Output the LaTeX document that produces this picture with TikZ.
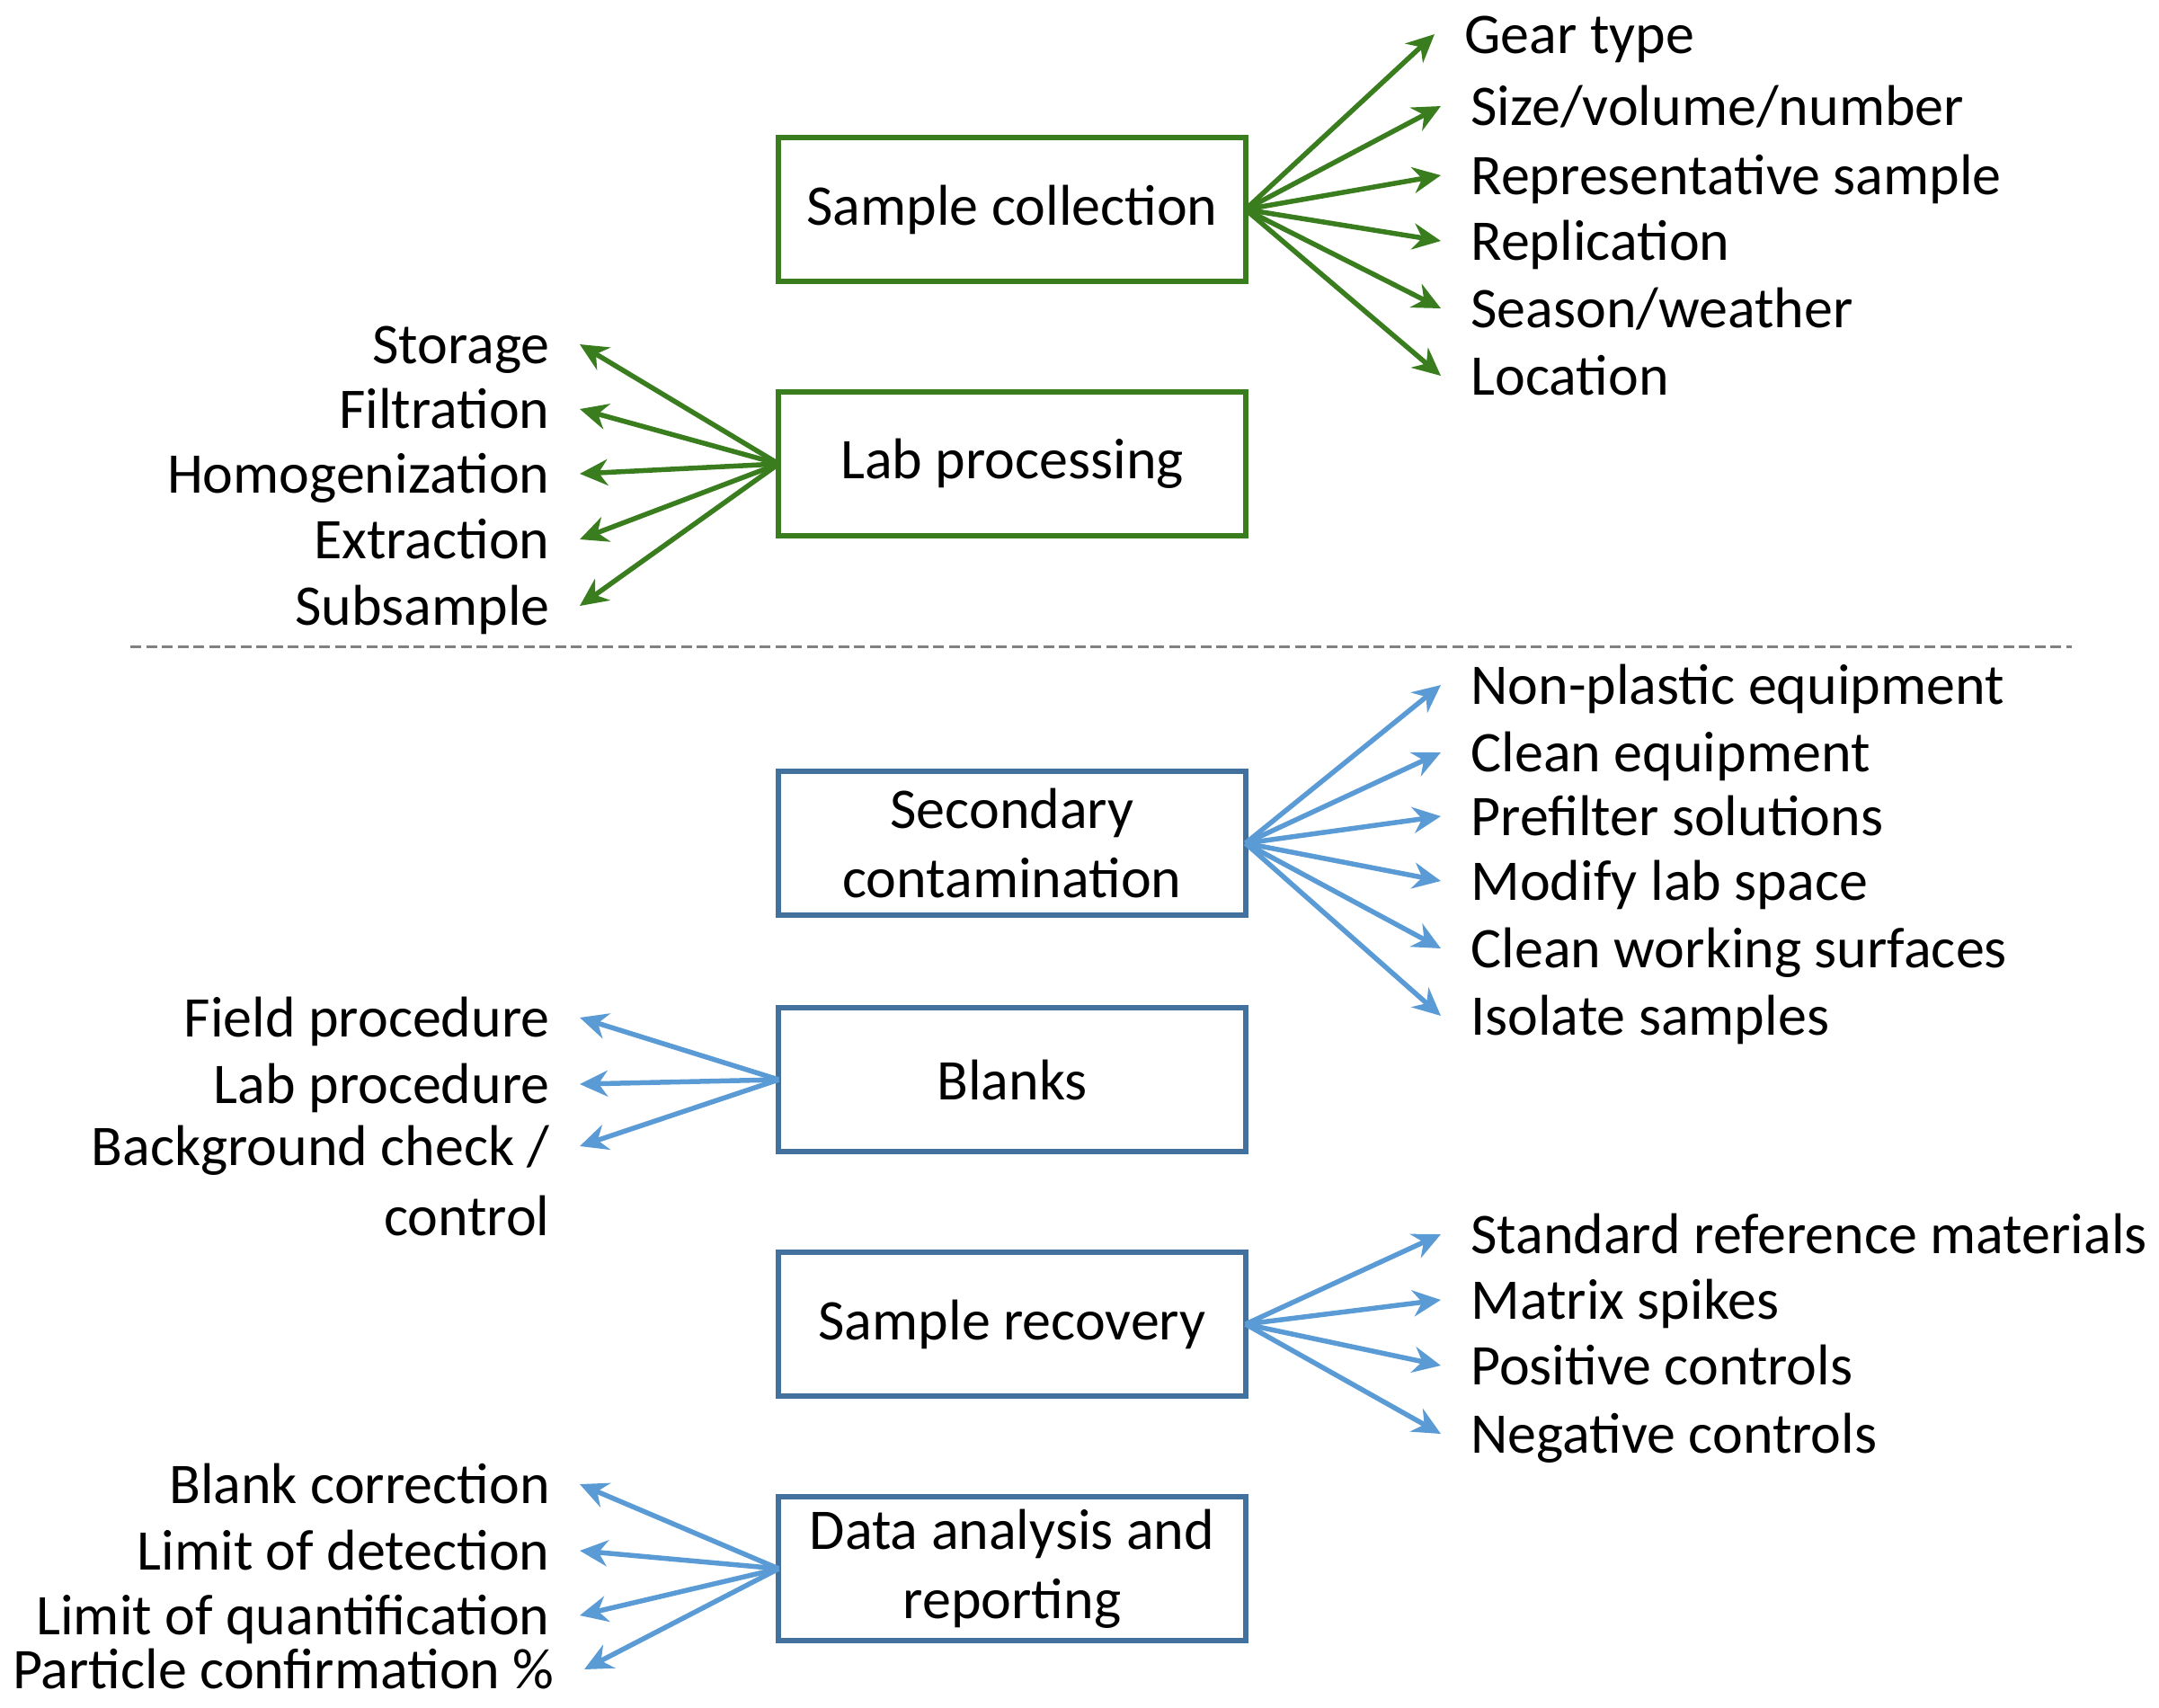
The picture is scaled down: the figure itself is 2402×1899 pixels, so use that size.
\documentclass[tikz,border=0pt]{standalone}
\usepackage{fontspec}
\setmainfont{Carlito}
\usetikzlibrary{arrows.meta}
\definecolor{grn}{RGB}{58,125,31}
\definecolor{bboxc}{RGB}{65,113,156}
\definecolor{barrow}{RGB}{91,155,213}
\definecolor{sepc}{RGB}{128,128,128}
\begin{document}
\begin{tikzpicture}[x=0.01cm,y=-0.01cm,
  every node/.style={font=\fontsize{18.2}{21.8}\selectfont},
  box/.style={draw, line width=0.6mm, minimum width=5.19cm, minimum height=1.6cm, inner sep=0, outer sep=0, align=center},
  gbox/.style={box, draw=grn},
  bbx/.style={box, draw=bboxc},
  item/.style={inner sep=0, outer xsep=9.5pt, text height=16.2pt, text depth=4pt},
  ritem/.style={item, anchor=west},
  litem/.style={item, anchor=east},
  tip/.style={-{Stealth[length=3.1mm, width=2.9mm, inset=1mm]}},
  garr/.style={draw=grn, line width=0.55mm, tip},
  barr/.style={draw=barrow, line width=0.55mm, tip}
]
\useasboundingbox (0,0) rectangle (2402,1899);

% boxes
\node[gbox] (sc) at (1126,233) {Sample collection};
\node[gbox] (lp) at (1126,516) {Lab processing};
\node[bbx] (secc) at (1126,938) {Secondary\\contamination};
\node[bbx] (bl) at (1126,1201) {Blanks};
\node[bbx] (sr) at (1126,1473) {Sample recovery};
\node[bbx] (da) at (1126,1745) {Data analysis and\\reporting};

% sample collection items
\node[ritem] (sc1) at (1596,38) {Gear type};
\node[ritem] (sc2) at (1603,118) {Size/volume/number};
\node[ritem] (sc3) at (1603,195) {Representative sample};
\node[ritem] (sc4) at (1603,268) {Replication};
\node[ritem] (sc5) at (1603,343) {Season/weather};
\node[ritem] (sc6) at (1603,418) {Location};
\foreach \i in {1,...,6} \draw[garr] (sc.east) -- (sc\i.west);

% lab processing items
\node[litem] (lp1) at (645,383) {Storage};
\node[litem] (lp2) at (645,455) {Filtration};
\node[litem] (lp3) at (645,527) {Homogenization};
\node[litem] (lp4) at (645,600) {Extraction};
\node[litem] (lp5) at (645,674) {Subsample};
\foreach \i in {1,...,5} \draw[garr] (lp.west) -- (lp\i.east);

% separator
\draw[sepc, line width=0.3mm, dash pattern=on 1.2mm off 0.55mm] (145,719) -- (2305,719);

% secondary contamination items
\node[ritem] (s1) at (1603,762) {Non-plastic equipment};
\node[ritem] (s2) at (1603,837) {Clean equipment};
\node[ritem] (s3) at (1603,908) {Prefilter solutions};
\node[ritem] (s4) at (1603,980) {Modify lab space};
\node[ritem] (s5) at (1603,1055) {Clean working surfaces};
\node[ritem] (s6) at (1603,1130) {Isolate samples};
\foreach \i in {1,...,6} \draw[barr] (secc.east) -- (s\i.west);

% blanks items
\node[litem] (b1) at (645,1132) {Field procedure};
\node[litem] (b2) at (645,1206) {Lab procedure};
\node[litem] (b3) at (645,1275) {Background check /};
\node[litem] (b3b) at (645,1353) {control};
\foreach \i in {1,2,3} \draw[barr] (bl.west) -- (b\i.east);

% sample recovery items
\node[ritem] (r1) at (1603,1373) {Standard reference materials};
\node[ritem] (r2) at (1603,1446) {Matrix spikes};
\node[ritem] (r3) at (1603,1519) {Positive controls};
\node[ritem] (r4) at (1603,1595) {Negative controls};
\foreach \i in {1,...,4} \draw[barr] (sr.east) -- (r\i.west);

% data analysis items
\node[litem] (d1) at (645,1651) {Blank correction};
\node[litem] (d2) at (645,1725) {Limit of detection};
\node[litem] (d3) at (645,1797) {Limit of quantification};
\node[litem] (d4) at (650,1857) {Particle confirmation \%};
\foreach \i in {1,...,4} \draw[barr] (da.west) -- (d\i.east);
\end{tikzpicture}
\end{document}
